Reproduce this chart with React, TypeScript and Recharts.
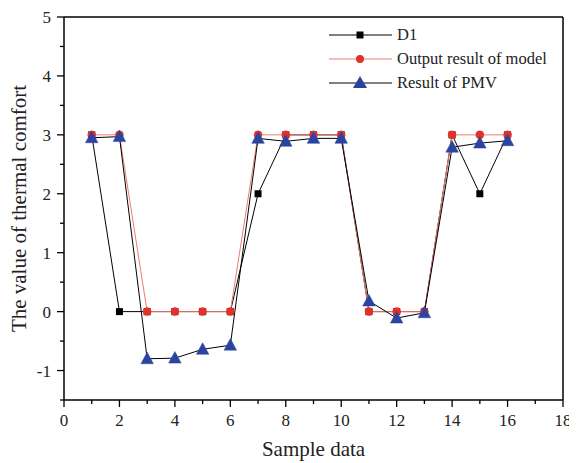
import React from 'react';
import { LineChart, Line, XAxis, YAxis, ReferenceLine } from 'recharts';

const samples = [1, 2, 3, 4, 5, 6, 7, 8, 9, 10, 11, 12, 13, 14, 15, 16];
const d1Values = [3, 0, 0, 0, 0, 0, 2, 3, 3, 3, 0, 0, 0, 3, 2, 3];
const modelValues = [3, 3, 0, 0, 0, 0, 3, 3, 3, 3, 0, 0, 0, 3, 3, 3];
const pmvValues = [2.95, 2.97, -0.8, -0.79, -0.64, -0.57, 2.94, 2.89, 2.94, 2.94, 0.18, -0.11, -0.02, 2.79, 2.86, 2.9];
const xTicks = [0, 1, 2, 3, 4, 5, 6, 7, 8, 9, 10, 11, 12, 13, 14, 15, 16, 17, 18];
const yTicks = [-1.5, -1, -0.5, 0, 0.5, 1, 1.5, 2, 2.5, 3, 3.5, 4, 4.5, 5];
const legendNames = ['D1', 'Output result of model', 'Result of PMV'];

const data = samples.map((s, i) => ({ x: s, d1: d1Values[i], model: modelValues[i], pmv: pmvValues[i] }));

const FONT = '"Liberation Serif", "Times New Roman", serif';
const W = 569;
const H = 455;

const XTick = (props: any) => {
  const { x, y, payload } = props;
  const v = payload.value;
  const major = v % 2 === 0;
  return (
    <g>
      <line x1={x} x2={x} y1={y} y2={y + (major ? 7 : 4)} stroke="#000" strokeWidth={1.3} />
      {major && (
        <text x={x} y={y + 26} textAnchor="middle" style={{ fontFamily: FONT, fontSize: 17 }} fill="#222">
          {v}
        </text>
      )}
    </g>
  );
};

const YTick = (props: any) => {
  const { x, y, payload } = props;
  const v = payload.value;
  const major = Number.isInteger(v);
  return (
    <g>
      <line x1={x} x2={x - (major ? 7 : 4)} y1={y} y2={y} stroke="#000" strokeWidth={1.3} />
      {major && (
        <text x={x - 13} y={y + 6} textAnchor="end" style={{ fontFamily: FONT, fontSize: 17 }} fill="#222">
          {v}
        </text>
      )}
    </g>
  );
};

const Square = (props: any) => {
  const { cx, cy, index } = props;
  if (cx == null || cy == null) return <g key={`s${index}`} />;
  return <rect key={`s${index}`} x={cx - 3.5} y={cy - 3.5} width={7} height={7} fill="#000" />;
};

const Circle = (props: any) => {
  const { cx, cy, index } = props;
  if (cx == null || cy == null) return <g key={`c${index}`} />;
  return <circle key={`c${index}`} cx={cx} cy={cy} r={4} fill="#e2312b" stroke="#e2312b" strokeWidth={0.5} />;
};

const Tri = (props: any) => {
  const { cx, cy, index } = props;
  if (cx == null || cy == null) return <g key={`t${index}`} />;
  const h = 11;
  const w = 12.5;
  return (
    <polygon
      key={`t${index}`}
      points={`${cx},${cy - h * 0.6} ${cx - w / 2},${cy + h * 0.45} ${cx + w / 2},${cy + h * 0.45}`}
      fill="#2b44a0"
      stroke="#2b44a0"
      strokeWidth={0.5}
    />
  );
};

const XLabel = (props: any) => {
  const vb = props.viewBox || {};
  return (
    <text x={vb.x + vb.width / 2} y={vb.y + 56} textAnchor="middle" style={{ fontFamily: FONT, fontSize: 21 }} fill="#222">
      Sample data
    </text>
  );
};

const YLabel = (props: any) => {
  const vb = props.viewBox || {};
  const cx = 11;
  const cy = vb.y + vb.height / 2;
  return (
    <text
      x={cx}
      y={cy}
      transform={`rotate(-90, ${cx}, ${cy})`}
      textAnchor="middle"
      dominantBaseline="central"
      style={{ fontFamily: FONT, fontSize: 21 }}
      fill="#222"
    >
      The value of thermal comfort
    </text>
  );
};

const LegendOverlay = () => {
  const ys = [27, 51, 75];
  const x1 = 321;
  const x2 = 384;
  const mx = 352;
  return (
    <svg width={W} height={H} style={{ position: 'absolute', left: 0, top: 0, pointerEvents: 'none' }}>
      <line x1={x1} x2={x2} y1={ys[0]} y2={ys[0]} stroke="#000" strokeWidth={1} />
      <rect x={mx - 3.5} y={ys[0] - 3.5} width={7} height={7} fill="#000" />
      <line x1={x1} x2={x2} y1={ys[1]} y2={ys[1]} stroke="#f07a70" strokeWidth={1} />
      <circle cx={mx} cy={ys[1]} r={4} fill="#e2312b" />
      <line x1={x1} x2={x2} y1={ys[2]} y2={ys[2]} stroke="#000" strokeWidth={1} />
      <polygon points={`${mx},${ys[2] - 7} ${mx - 7},${ys[2] + 5} ${mx + 7},${ys[2] + 5}`} fill="#2b44a0" />
      {legendNames.map((n, i) => (
        <text key={n} x={389} y={ys[i] + 5} style={{ fontFamily: FONT, fontSize: 16.5 }} fill="#222">
          {n}
        </text>
      ))}
    </svg>
  );
};

export default function App() {
  return (
    <div style={{ position: 'relative', width: W, height: H, fontFamily: FONT }}>
      <LineChart width={W} height={H} data={data} margin={{ top: 9, right: 14, left: 0, bottom: 0 }}>
        <XAxis
          dataKey="x"
          type="number"
          domain={[0, 18]}
          ticks={xTicks}
          interval={0}
          tick={<XTick />}
          tickLine={false}
          tickSize={0}
          tickMargin={0}
          height={63}
          axisLine={{ stroke: '#000', strokeWidth: 1.5 }}
          label={<XLabel />}
          allowDataOverflow
        />
        <YAxis
          type="number"
          domain={[-1.5, 5]}
          ticks={yTicks}
          interval={0}
          tick={<YTick />}
          tickLine={false}
          tickSize={0}
          tickMargin={0}
          width={56}
          axisLine={{ stroke: '#000', strokeWidth: 1.5 }}
          label={<YLabel />}
          allowDataOverflow
        />
        <ReferenceLine y={5} stroke="#000" strokeWidth={1.5} />
        <ReferenceLine x={18} stroke="#000" strokeWidth={1.5} />
        <Line dataKey="d1" stroke="#000" strokeWidth={1} dot={<Square />} isAnimationActive={false} />
        <Line dataKey="model" stroke="#f07a70" strokeWidth={1} dot={<Circle />} isAnimationActive={false} />
        <Line dataKey="pmv" stroke="#000" strokeWidth={1} dot={<Tri />} isAnimationActive={false} />
      </LineChart>
      <LegendOverlay />
    </div>
  );
}
